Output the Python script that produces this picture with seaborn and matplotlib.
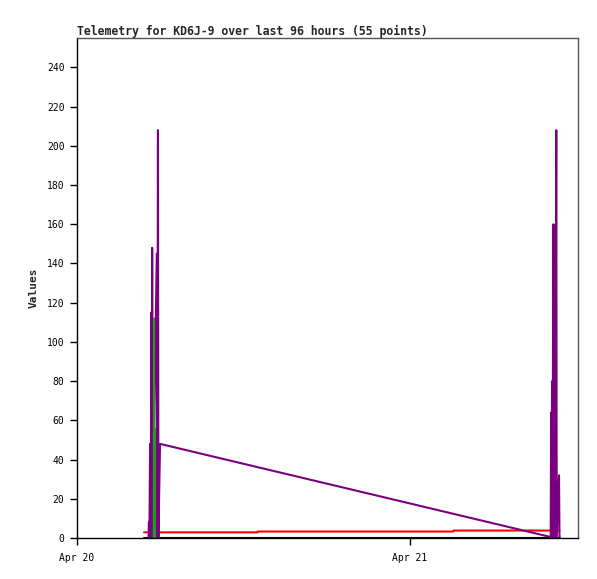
import matplotlib
matplotlib.use("Agg")
import matplotlib.pyplot as plt
import matplotlib.dates as mdates
import pandas as pd
import seaborn as sns

# ── Données ─────────────────────────────────────────────────────────────────
ch1_times = ["2024-04-20 04:50", "2024-04-21 10:49"]
ch1_vals = [0, 0]

ch2_times = ["2024-04-20 04:50", "2024-04-20 13:00", "2024-04-20 13:02",
             "2024-04-21 03:06", "2024-04-21 03:08", "2024-04-21 10:46"]
ch2_vals = [2.9, 2.9, 3.3, 3.3, 3.8, 3.8]

ch3_times = ["2024-04-20 05:09", "2024-04-20 05:11", "2024-04-20 05:13",
             "2024-04-20 05:16", "2024-04-20 05:19", "2024-04-20 05:21",
             "2024-04-20 05:23", "2024-04-20 05:25", "2024-04-20 05:27",
             "2024-04-20 05:45", "2024-04-20 05:47", "2024-04-20 05:50",
             "2024-04-20 05:52", "2024-04-20 05:59",
             "2024-04-21 10:08", "2024-04-21 10:10", "2024-04-21 10:11",
             "2024-04-21 10:14", "2024-04-21 10:15", "2024-04-21 10:20",
             "2024-04-21 10:22", "2024-04-21 10:26", "2024-04-21 10:28",
             "2024-04-21 10:32", "2024-04-21 10:34", "2024-04-21 10:44",
             "2024-04-21 10:46"]
ch3_vals = [0, 8, 0, 48, 0, 115, 0, 148, 0, 145, 0, 208, 0, 48,
            0.5, 64, 0, 80, 0, 160, 0, 104, 0, 208, 0, 32, 0]

ch4_times = ["2024-04-20 05:32", "2024-04-20 05:33", "2024-04-20 05:34",
             "2024-04-20 05:35", "2024-04-20 05:36"]
ch4_vals = [0, 112, 0, 56, 0]

series = {"Ch1": (ch1_times, ch1_vals), "Ch2": (ch2_times, ch2_vals),
          "Ch3": (ch3_times, ch3_vals), "Ch4": (ch4_times, ch4_vals)}
df = pd.concat([pd.DataFrame({"time": pd.to_datetime(t), "value": v, "channel": k})
                for k, (t, v) in series.items()], ignore_index=True)

palette = {"Ch1": "black", "Ch2": "#ff0000", "Ch3": "#7a0080", "Ch4": "#1aa01a"}

# ── Figure ──────────────────────────────────────────────────────────────────
sns.set_style("white")
plt.rcParams["font.family"] = ["DejaVu Sans Mono", "DejaVu Sans"]

fig = plt.figure(figsize=(5.97, 5.79), dpi=100)
ax = fig.add_axes([77 / 597, 1 - 538 / 579, 501 / 597, 500 / 579])

sns.lineplot(data=df, x="time", y="value", hue="channel", palette=palette,
             hue_order=["Ch1", "Ch2", "Ch3", "Ch4"], estimator=None,
             linewidth=1.5, legend=False, ax=ax)

ax.set_xlim(pd.Timestamp("2024-04-20 00:00"), pd.Timestamp("2024-04-21 12:06"))
ax.set_ylim(0, 255)
ax.set_yticks(range(0, 241, 20))
ax.xaxis.set_major_locator(mdates.DayLocator())
ax.xaxis.set_major_formatter(mdates.DateFormatter("%b %d"))

ax.tick_params(axis="both", direction="out", length=5, width=1, labelsize=7,
               colors="black", left=True, bottom=True, pad=4)
ax.tick_params(axis="x", pad=6)
for s in ["left", "bottom"]:
    ax.spines[s].set_color("black")
    ax.spines[s].set_linewidth(1)
for s in ["top", "right"]:
    ax.spines[s].set_color("#555555")
    ax.spines[s].set_linewidth(1)

ax.set_xlabel("")
ax.set_ylabel("Values", fontsize=8, fontweight="bold", labelpad=6)
ax.set_title("Telemetry for KD6J-9 over last 96 hours (55 points)",
             loc="left", fontsize=8.3, fontweight="bold", pad=2)

fig.savefig("out.png", dpi=100)
plt.close()
